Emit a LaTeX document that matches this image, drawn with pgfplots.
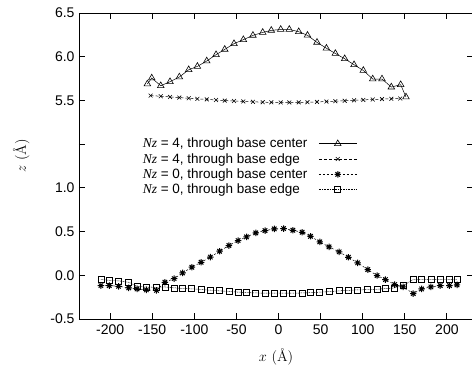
\documentclass[border=0pt]{standalone}
\usepackage{fontspec}
\setsansfont{Liberation Sans}
\newfontfamily\tms{Liberation Serif}
\usepackage{pgfplots}
\usepackage{pgfplotstable}
\pgfplotsset{compat=1.18}
\pgfdeclareplotmark{gpstar}{%
 \pgfpathmoveto{\pgfqpoint{-\pgfplotmarksize}{0pt}}\pgfpathlineto{\pgfqpoint{\pgfplotmarksize}{0pt}}%
 \pgfpathmoveto{\pgfqpoint{0pt}{-\pgfplotmarksize}}\pgfpathlineto{\pgfqpoint{0pt}{\pgfplotmarksize}}%
 \pgfpathmoveto{\pgfqpoint{-.7\pgfplotmarksize}{-.7\pgfplotmarksize}}\pgfpathlineto{\pgfqpoint{.7\pgfplotmarksize}{.7\pgfplotmarksize}}%
 \pgfpathmoveto{\pgfqpoint{-.7\pgfplotmarksize}{.7\pgfplotmarksize}}\pgfpathlineto{\pgfqpoint{.7\pgfplotmarksize}{-.7\pgfplotmarksize}}%
 \pgfusepathqstroke}

\pgfplotstableread{
x z
-155.8 5.688
-150.6 5.756
-139.9 5.668
-128.9 5.714
-117.8 5.768
-106.7 5.851
-96.4 5.889
-85.3 5.951
-74.2 6.023
-63.9 6.084
-52.9 6.149
-41.8 6.195
-30.4 6.244
-18.8 6.278
-8.6 6.301
2.6 6.312
12.8 6.312
24.0 6.286
34.4 6.245
45.7 6.164
56.9 6.097
67.5 6.037
78.6 5.977
89.7 5.908
100.7 5.843
111.9 5.745
122.9 5.745
134.0 5.653
145.1 5.680
151.4 5.539
}\ncenter

\pgfplotstableread{
x z
-152.0 5.555
-139.9 5.548
-128.9 5.540
-117.8 5.533
-106.7 5.525
-96.4 5.518
-85.3 5.512
-74.2 5.505
-63.9 5.498
-52.9 5.493
-41.8 5.488
-30.4 5.484
-18.8 5.480
-8.6 5.478
2.6 5.477
12.8 5.477
24.0 5.478
34.4 5.480
45.7 5.483
56.9 5.487
67.5 5.491
78.6 5.496
89.7 5.501
100.7 5.506
111.9 5.511
122.9 5.515
134.0 5.519
144.5 5.522
}\nedge

\pgfplotstableread{
x z
-211 -0.118
-201 -0.118
-190 -0.126
-178 -0.144
-168 -0.156
-157 -0.167
-145 -0.172
-135 -0.080
-124 -0.038
-114 0.027
-103 0.092
-92 0.149
-81 0.208
-70 0.275
-59 0.340
-48 0.397
-38 0.439
-27 0.485
-16 0.511
-5 0.531
6 0.534
17 0.515
28 0.492
38 0.446
49 0.382
60 0.325
72 0.268
83 0.206
94 0.142
106 0.065
117 -0.003
127 -0.049
138 -0.106
148 -0.133
160 -0.209
170 -0.156
181 -0.133
192 -0.118
203 -0.118
212 -0.110
}\zcenter

\pgfplotstableread{
x z
-211 -0.049
-201 -0.057
-190 -0.064
-178 -0.080
-168 -0.125
-157 -0.133
-145 -0.140
-135 -0.133
-124 -0.144
-114 -0.150
-103 -0.155
-92 -0.162
-81 -0.170
-70 -0.178
-59 -0.186
-48 -0.192
-38 -0.198
-27 -0.202
-16 -0.204
-5 -0.205
6 -0.205
17 -0.204
28 -0.202
38 -0.198
49 -0.193
60 -0.187
72 -0.178
83 -0.172
94 -0.167
106 -0.164
117 -0.160
127 -0.152
138 -0.144
148 -0.118
160 -0.049
170 -0.049
181 -0.049
192 -0.049
203 -0.049
212 -0.049
}\zedge

\begin{document}
\begin{tikzpicture}
\begin{axis}[
  scale only axis,
  width=394pt, height=306pt,
  xmin=-237, xmax=231,
  ymin=-0.5, ymax=3.0,
  axis line style={line width=0.9pt},
  tick style={line width=0.9pt, black},
  major tick length=6pt,
  tick align=inside,
  xtick={-200,-150,-100,-50,0,50,100,150,200},
  xticklabels={-200,-150,-100,-50,0,50,100,150,200},
  ytick={-0.5,0,0.5,1.0,1.5,2.0,2.5,3.0},
  yticklabels={-0.5,0.0,0.5,1.0,,5.5,6.0,6.5},
  tick label style={font=\sffamily\fontsize{14}{16}\selectfont},
  xticklabel style={yshift=-2pt},
  yticklabel style={xshift=-1pt},
  xlabel={$x$ (\AA)},
  ylabel={$z$ (\AA)},
  label style={font=\fontsize{14.5}{16}\selectfont},
  xlabel style={yshift=-7pt},
  ylabel style={yshift=14pt, xshift=10pt},
  legend plot pos=right,
  legend cell align=left,
  legend image code/.code={\draw[mark repeat=2,mark phase=2,#1] plot coordinates {(0pt,0pt)(19pt,0pt)(38pt,0pt)};},
  legend style={draw=none, fill=none, at={(rel axis cs:0.155,0.6)}, anchor=north west,
    font=\sffamily\fontsize{13.5}{13}\selectfont, row sep=0pt, column sep=9pt, inner sep=0.5pt},
]
\addplot[black, line width=0.5pt, mark=triangle, mark size=3.8pt, mark options={solid, fill=gray!55, line width=0.6pt}]
  table[x=x, y expr=\thisrow{z}-3.5] {\ncenter};
\addlegendentry{{\tms\itshape Nz} = 4, through base center}
\addplot[black, line width=0.5pt, dash pattern=on 3pt off 2pt, mark=x, mark size=2.7pt, mark options={solid, line width=0.6pt}]
  table[x=x, y expr=\thisrow{z}-3.5] {\nedge};
\addlegendentry{{\tms\itshape Nz} = 4, through base edge}
\addplot[black, line width=0.5pt, dash pattern=on 2pt off 2pt, mark=gpstar, mark size=3.2pt, mark options={solid, line width=1pt}]
  table[x=x, y=z] {\zcenter};
\addlegendentry{{\tms\itshape Nz} = 0, through base center}
\addplot[black, line width=0.5pt, dash pattern=on 0.8pt off 0.8pt, mark=square, mark size=3pt, mark options={solid, line width=0.7pt}]
  table[x=x, y=z] {\zedge};
\addlegendentry{{\tms\itshape Nz} = 0, through base edge}
\end{axis}
\pgfresetboundingbox
\path[use as bounding box] ([shift={(-79pt,-51pt)}]current axis.south west) rectangle ([shift={(-1pt,13pt)}]current axis.north east);
\end{tikzpicture}
\end{document}
